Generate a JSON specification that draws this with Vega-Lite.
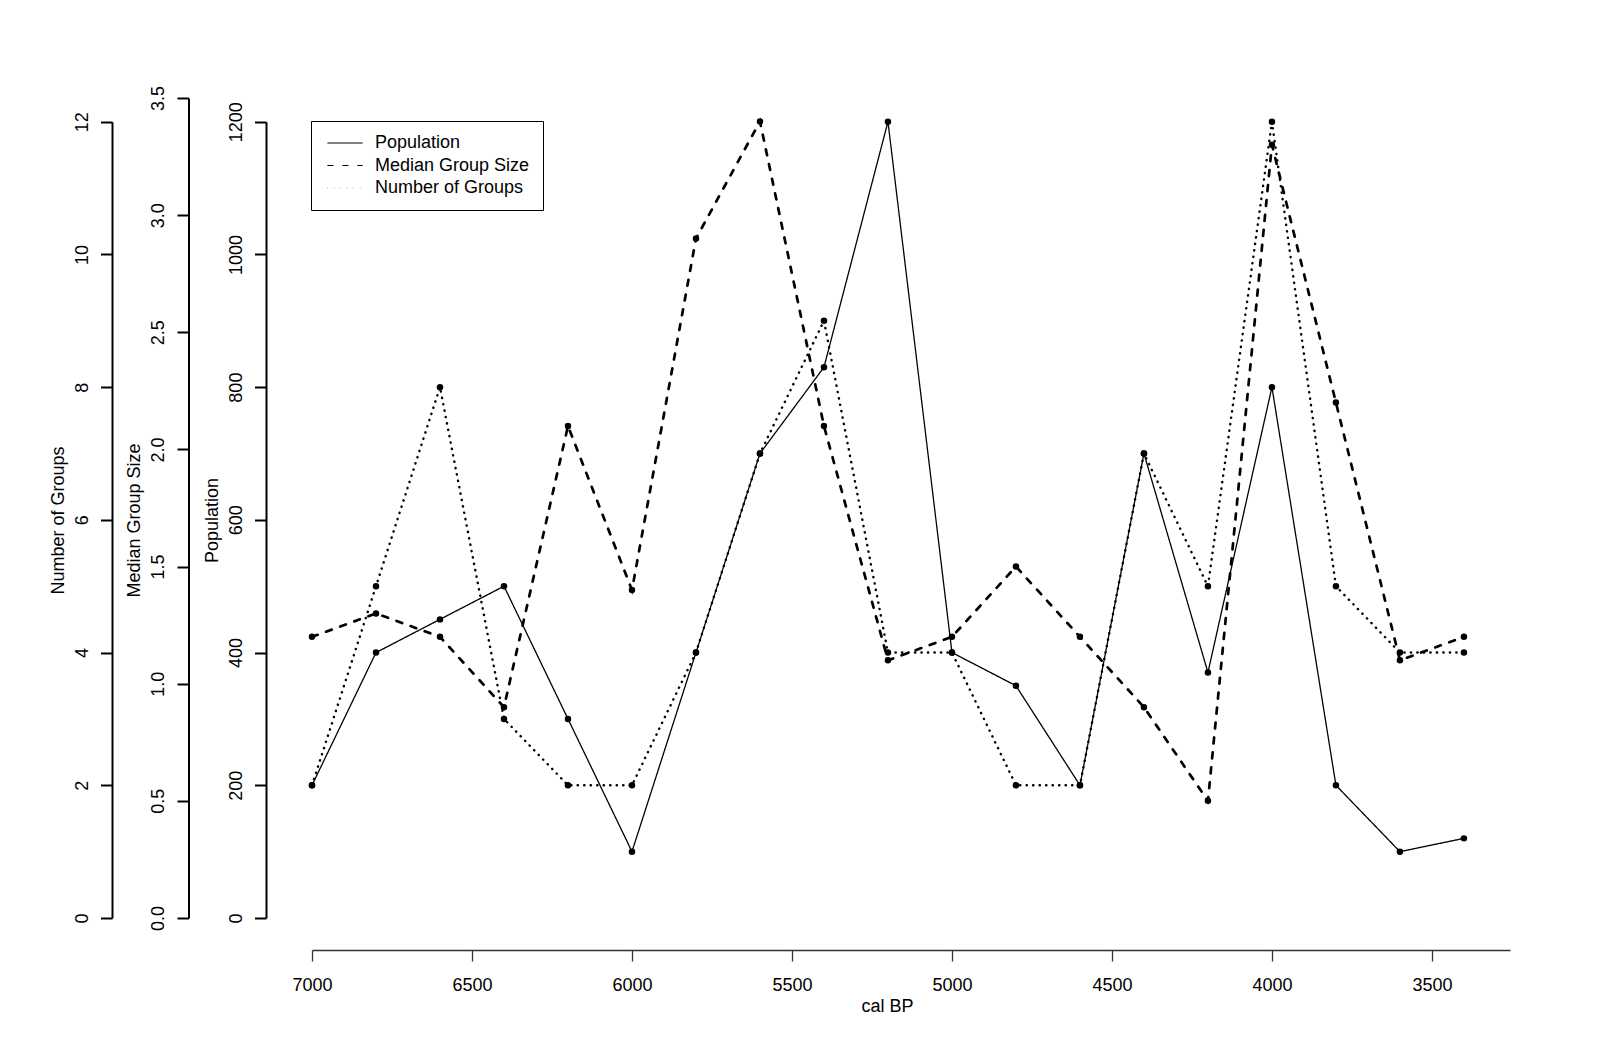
{
  "$schema": "https://vega.github.io/schema/vega-lite/v6.json",
  "width": 1198,
  "height": 820,
  "autosize": "none",
  "padding": {"left": 312, "top": 98, "right": 90, "bottom": 144},
  "background": "white",
  "config": {
    "view": {"stroke": null},
    "font": "Liberation Sans",
    "axisY": {
      "orient": "left",
      "grid": false,
      "domainColor": "black",
      "domainWidth": 2,
      "tickColor": "black",
      "tickWidth": 2,
      "tickSize": 11.5,
      "labelAngle": -90,
      "labelAlign": "center",
      "labelBaseline": "alphabetic",
      "labelPadding": 13.5,
      "labelFontSize": 18,
      "labelColor": "black",
      "labelFlush": false,
      "labelOverlap": false,
      "titleFontSize": 18,
      "titleFontWeight": "normal",
      "titleColor": "black",
      "titleAngle": -90,
      "titleAlign": "center",
      "titleBaseline": "alphabetic",
      "titleX": -49,
      "titleY": 422
    },
    "axisX": {
      "grid": false,
      "domainColor": "#333333",
      "domainWidth": 1.3,
      "tickColor": "#333333",
      "tickWidth": 1.3,
      "tickSize": 11,
      "labelAngle": 0,
      "labelAlign": "center",
      "labelBaseline": "alphabetic",
      "labelPadding": 29,
      "labelFontSize": 18,
      "labelColor": "black",
      "labelFlush": false,
      "labelOverlap": false,
      "titleFontSize": 18,
      "titleFontWeight": "normal",
      "titleColor": "black",
      "titleAlign": "center",
      "titleBaseline": "alphabetic",
      "titleX": 575,
      "titleY": 61.7
    }
  },
  "data": {
    "values": [
      {"bp": 7000, "series": "Population", "value": 200},
      {"bp": 6800, "series": "Population", "value": 400},
      {"bp": 6600, "series": "Population", "value": 450},
      {"bp": 6400, "series": "Population", "value": 500},
      {"bp": 6200, "series": "Population", "value": 300},
      {"bp": 6000, "series": "Population", "value": 100},
      {"bp": 5800, "series": "Population", "value": 400},
      {"bp": 5600, "series": "Population", "value": 700},
      {"bp": 5400, "series": "Population", "value": 830},
      {"bp": 5200, "series": "Population", "value": 1200},
      {"bp": 5000, "series": "Population", "value": 400},
      {"bp": 4800, "series": "Population", "value": 350},
      {"bp": 4600, "series": "Population", "value": 200},
      {"bp": 4400, "series": "Population", "value": 700},
      {"bp": 4200, "series": "Population", "value": 370},
      {"bp": 4000, "series": "Population", "value": 800},
      {"bp": 3800, "series": "Population", "value": 200},
      {"bp": 3600, "series": "Population", "value": 100},
      {"bp": 3400, "series": "Population", "value": 120},
      {"bp": 7000, "series": "Median Group Size", "value": 1.2},
      {"bp": 6800, "series": "Median Group Size", "value": 1.3},
      {"bp": 6600, "series": "Median Group Size", "value": 1.2},
      {"bp": 6400, "series": "Median Group Size", "value": 0.9},
      {"bp": 6200, "series": "Median Group Size", "value": 2.1},
      {"bp": 6000, "series": "Median Group Size", "value": 1.4},
      {"bp": 5800, "series": "Median Group Size", "value": 2.9},
      {"bp": 5600, "series": "Median Group Size", "value": 3.4},
      {"bp": 5400, "series": "Median Group Size", "value": 2.1},
      {"bp": 5200, "series": "Median Group Size", "value": 1.1},
      {"bp": 5000, "series": "Median Group Size", "value": 1.2},
      {"bp": 4800, "series": "Median Group Size", "value": 1.5},
      {"bp": 4600, "series": "Median Group Size", "value": 1.2},
      {"bp": 4400, "series": "Median Group Size", "value": 0.9},
      {"bp": 4200, "series": "Median Group Size", "value": 0.5},
      {"bp": 4000, "series": "Median Group Size", "value": 3.3},
      {"bp": 3800, "series": "Median Group Size", "value": 2.2},
      {"bp": 3600, "series": "Median Group Size", "value": 1.1},
      {"bp": 3400, "series": "Median Group Size", "value": 1.2},
      {"bp": 7000, "series": "Number of Groups", "value": 2},
      {"bp": 6800, "series": "Number of Groups", "value": 5},
      {"bp": 6600, "series": "Number of Groups", "value": 8},
      {"bp": 6400, "series": "Number of Groups", "value": 3},
      {"bp": 6200, "series": "Number of Groups", "value": 2},
      {"bp": 6000, "series": "Number of Groups", "value": 2},
      {"bp": 5800, "series": "Number of Groups", "value": 4},
      {"bp": 5600, "series": "Number of Groups", "value": 7},
      {"bp": 5400, "series": "Number of Groups", "value": 9},
      {"bp": 5200, "series": "Number of Groups", "value": 4},
      {"bp": 5000, "series": "Number of Groups", "value": 4},
      {"bp": 4800, "series": "Number of Groups", "value": 2},
      {"bp": 4600, "series": "Number of Groups", "value": 2},
      {"bp": 4400, "series": "Number of Groups", "value": 7},
      {"bp": 4200, "series": "Number of Groups", "value": 5},
      {"bp": 4000, "series": "Number of Groups", "value": 12},
      {"bp": 3800, "series": "Number of Groups", "value": 5},
      {"bp": 3600, "series": "Number of Groups", "value": 4},
      {"bp": 3400, "series": "Number of Groups", "value": 4}
    ]
  },
  "encoding": {
    "x": {
      "field": "bp",
      "type": "quantitative",
      "title": "cal BP",
      "scale": {"domain": [7000, 3256], "nice": false, "zero": false},
      "axis": {"offset": 32, "values": [7000, 6500, 6000, 5500, 5000, 4500, 4000, 3500], "format": "d"}
    }
  },
  "layer": [
    {
      "transform": [{"filter": "datum.series === 'Population'"}],
      "encoding": {
        "y": {
          "field": "value",
          "type": "quantitative",
          "title": "Population",
          "scale": {"domain": [0, 1235.7], "nice": false, "zero": false},
          "axis": {"orient": "left", "offset": 46, "values": [0, 200, 400, 600, 800, 1000, 1200], "format": "d", "domainDash": [796.3, 300]}
        }
      },
      "layer": [
        {
          "mark": {"type": "line", "color": "black", "strokeWidth": 1.3, "strokeCap": "round"},
          "encoding": {
            "strokeDash": {
              "field": "series",
              "type": "nominal",
              "scale": {"domain": ["Population", "Median Group Size", "Number of Groups"], "range": [[1, 0], [6, 9], [0.3, 6.2]]},
              "legend": {
                "title": null,
                "orient": "none",
                "legendX": -1,
                "legendY": 23,
                "strokeColor": "black",
                "padding": 13,
                "symbolType": "M-2.2,0H2.2",
                "symbolSize": 256,
                "symbolOffset": 12,
                "symbolStrokeWidth": 1.2,
                "symbolStrokeColor": "black",
                "labelFontSize": 18,
                "labelColor": "black",
                "labelOffset": 21,
                "rowPadding": 4.5
              }
            }
          }
        },
        {"mark": {"type": "point", "filled": true, "color": "black", "size": 42, "opacity": 1}}
      ]
    },
    {
      "transform": [{"filter": "datum.series === 'Median Group Size'"}],
      "encoding": {
        "y": {
          "field": "value",
          "type": "quantitative",
          "title": "Median Group Size",
          "scale": {"domain": [0, 3.5], "nice": false, "zero": false},
          "axis": {"orient": "left", "offset": 123.5, "values": [0, 0.5, 1, 1.5, 2, 2.5, 3, 3.5], "format": ".1f"}
        }
      },
      "layer": [
        {
          "mark": {"type": "line", "color": "black", "strokeWidth": 2.7, "strokeCap": "round"},
          "encoding": {
            "strokeDash": {
              "field": "series",
              "type": "nominal",
              "scale": {"domain": ["Population", "Median Group Size", "Number of Groups"], "range": [[1, 0], [6, 9], [0.3, 6.2]]}
            }
          }
        },
        {"mark": {"type": "point", "filled": true, "color": "black", "size": 42, "opacity": 1}}
      ]
    },
    {
      "transform": [{"filter": "datum.series === 'Number of Groups'"}],
      "encoding": {
        "y": {
          "field": "value",
          "type": "quantitative",
          "title": "Number of Groups",
          "scale": {"domain": [0, 12.357], "nice": false, "zero": false},
          "axis": {"orient": "left", "offset": 200, "values": [0, 2, 4, 6, 8, 10, 12], "format": "d", "domainDash": [796.3, 300]}
        }
      },
      "layer": [
        {
          "mark": {"type": "line", "color": "black", "strokeWidth": 2.4, "strokeCap": "round"},
          "encoding": {
            "strokeDash": {
              "field": "series",
              "type": "nominal",
              "scale": {"domain": ["Population", "Median Group Size", "Number of Groups"], "range": [[1, 0], [6, 9], [0.3, 6.2]]}
            }
          }
        },
        {"mark": {"type": "point", "filled": true, "color": "black", "size": 42, "opacity": 1}}
      ]
    }
  ],
  "resolve": {"scale": {"y": "independent"}, "axis": {"y": "independent"}}
}
